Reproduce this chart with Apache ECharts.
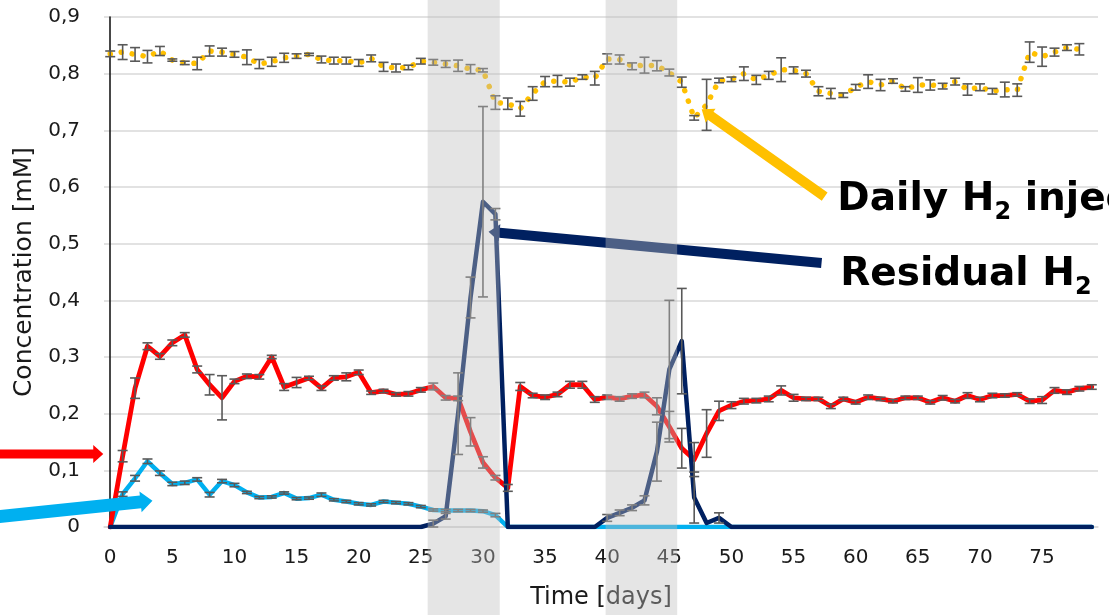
<!DOCTYPE html>
<html><head><meta charset="utf-8">
<script src="https://cdn.jsdelivr.net/npm/echarts@6/dist/echarts.min.js"></script>
<style>html,body{margin:0;padding:0;background:#fff}#c{width:1109px;height:615px}</style>
</head><body><div id="c"></div>
<script>
// ---------- data ----------
const days = ['0','1','2','3','4','5','6','7','8','9','10','11','12','13','14','15','16','17','18','19',
  '20','21','22','23','24','25','26','27','28','29','30','31','32','33','34','35','36','37','38','39',
  '40','41','42','43','44','45','46','47','48','49','50','51','52','53','54','55','56','57','58','59',
  '60','61','62','63','64','65','66','67','68','69','70','71','72','73','74','75','76','77','78','79'];

const dailyH2 = [0.835,0.838,0.834,0.830,0.840,0.824,0.819,0.818,0.840,0.838,
  0.834,0.829,0.817,0.821,0.828,0.831,0.834,0.825,0.823,0.823,
  0.819,0.827,0.812,0.810,0.811,0.822,0.820,0.817,0.814,0.808,
  0.806,0.749,0.747,0.738,0.765,0.786,0.787,0.785,0.794,0.792,
  0.826,0.825,0.813,0.815,0.814,0.802,0.785,0.722,0.745,0.788,
  0.790,0.800,0.789,0.797,0.807,0.806,0.800,0.769,0.765,0.762,
  0.776,0.786,0.780,0.787,0.773,0.780,0.780,0.778,0.786,0.772,
  0.776,0.769,0.772,0.771,0.838,0.830,0.838,0.846,0.843];
const dailyH2Err = [0.005,0.013,0.012,0.011,0.008,0.002,0.003,0.011,0.009,0.007,
  0.005,0.013,0.008,0.008,0.008,0.004,0.002,0.006,0.006,0.006,
  0.006,0.006,0.008,0.007,0.004,0.005,0.005,0.006,0.010,0.008,
  0.003,0.012,0.010,0.013,0.012,0.009,0.010,0.007,0.004,0.012,
  0.009,0.008,0.006,0.014,0.009,0.006,0.009,0.004,0.045,0.004,
  0.004,0.012,0.008,0.007,0.021,0.006,0.006,0.008,0.009,0.004,
  0.005,0.012,0.010,0.004,0.004,0.013,0.009,0.005,0.006,0.010,
  0.006,0.005,0.013,0.011,0.018,0.017,0.007,0.005,0.010];

const redSeries = [0.000,0.125,0.245,0.319,0.301,0.325,0.339,0.278,0.251,0.228,
  0.257,0.266,0.265,0.300,0.247,0.255,0.263,0.245,0.263,0.265,
  0.273,0.237,0.240,0.234,0.235,0.242,0.248,0.228,0.227,0.168,
  0.114,0.087,0.069,0.248,0.232,0.229,0.234,0.251,0.251,0.225,
  0.229,0.226,0.231,0.233,0.213,0.177,0.139,0.119,0.165,0.205,
  0.215,0.222,0.223,0.226,0.241,0.228,0.226,0.226,0.213,0.226,
  0.220,0.229,0.226,0.222,0.228,0.228,0.220,0.228,0.222,0.232,
  0.225,0.232,0.232,0.234,0.222,0.224,0.241,0.238,0.244,0.247];
const redErr = [0,0.010,0.018,0.006,0.005,0.005,0.004,0.006,0.018,0.039,
  0.004,0.004,0.004,0.003,0.006,0.009,0.003,0.004,0.004,0.007,
  0.004,0.003,0.003,0.003,0.004,0.004,0.006,0.004,0.004,0.025,
  0.010,0.004,0.006,0.007,0.004,0.004,0.004,0.006,0.006,0.005,
  0.004,0.004,0.004,0.005,0.015,0.027,0.035,0.030,0.042,0.017,
  0.006,0.005,0.004,0.005,0.008,0.006,0.003,0.003,0.004,0.003,
  0.003,0.004,0.003,0.003,0.003,0.003,0.003,0.004,0.003,0.005,
  0.004,0.004,0.003,0.003,0.004,0.006,0.005,0.004,0.004,0.004];

const blueSeries = [0.000,0.058,0.086,0.116,0.095,0.076,0.078,0.084,0.057,0.081,
  0.074,0.061,0.052,0.053,0.060,0.050,0.051,0.057,0.048,0.045,
  0.041,0.039,0.045,0.043,0.041,0.036,0.030,0.029,0.029,0.029,
  0.028,0.021,0,0,0,0,0,0,0,0,
  0,0,0,0,0,0,0,0,0,0,
  0,0,0,0,0,0,0,0,0,0,
  0,0,0,0,0,0,0,0,0,0,
  0,0,0,0,0,0,0,0,0,0];
const blueErr = [0,0.004,0.005,0.004,0.004,0.003,0.003,0.003,0.004,0.003,
  0.003,0.002,0.002,0.002,0.002,0.002,0.002,0.003,0.002,0.002,
  0.002,0.002,0.002,0.002,0.002,0.002,0.002,0.002,0.002,0.002,
  0.002,0.003,0,0,0,0,0,0,0,0,
  0,0,0,0,0,0,0,0,0,0,
  0,0,0,0,0,0,0,0,0,0,
  0,0,0,0,0,0,0,0,0,0,
  0,0,0,0,0,0,0,0,0,0];

const residualH2 = [0,0,0,0,0,0,0,0,0,0,
  0,0,0,0,0,0,0,0,0,0,
  0,0,0,0,0,0,0.006,0.019,0.200,0.405,
  0.574,0.552,0,0,0,0,0,0,0,0,
  0.016,0.025,0.034,0.047,0.133,0.278,0.328,0.052,0.007,0.016,
  0,0,0,0,0,0,0,0,0,0,
  0,0,0,0,0,0,0,0,0,0,
  0,0,0,0,0,0,0,0,0,0];
const residualH2Err = [0,0,0,0,0,0,0,0,0,0,
  0,0,0,0,0,0,0,0,0,0,
  0,0,0,0,0,0,0.006,0.005,0.072,0.036,
  0.168,0.010,0,0,0,0,0,0,0,0,
  0.006,0.005,0.005,0.008,0.052,0.122,0.093,0.045,0,0.009,
  0,0,0,0,0,0,0,0,0,0,
  0,0,0,0,0,0,0,0,0,0,
  0,0,0,0,0,0,0,0,0,0];

const shadedBands = [[25.55, 31.35], [39.87, 45.63]];   // day ranges
const yTickLabels = ['0','0,1','0,2','0,3','0,4','0,5','0,6','0,7','0,8','0,9'];

// annotation anchors in data units [day, concentration]
const arrowYellow = {tail:[57.5, 0.583], tip:[47.6, 0.737]};
const arrowNavy   = {tail:[57.25, 0.466], tip:[30.45, 0.521]};
const arrowRed    = {tail:[-9.5, 0.129], tip:[-0.56, 0.129]};
const arrowBlue   = {tail:[-9.5, 0.017], tip:[3.4, 0.0465]};
const labelDaily    = [58.52, 0.611];
const labelResidual = [58.76, 0.479];

// ---------- chart ----------
const FONT = 'DejaVu Sans';
const chart = echarts.init(document.getElementById('c'), null, {renderer:'canvas'});

function errData(vals, errs){ return vals.map((v,i)=>[i, v, errs[i]]); }
function errSeries(vals, errs, z){
  return {
    type:'custom', xAxisIndex:0, yAxisIndex:0, z:z, silent:true,
    encode:{x:0, y:1},
    data: errData(vals, errs),
    renderItem: function(params, api){
      const e = api.value(2);
      if (!e) return null;
      const x = api.value(0), v = api.value(1);
      const top = api.coord([x, v + e]);
      const bot = api.coord([x, Math.max(v - e, 0)]);
      const hw = 5;
      const st = {stroke:'#595959', lineWidth:1.6};
      return {type:'group', children:[
        {type:'line', shape:{x1:top[0], y1:top[1], x2:bot[0], y2:bot[1]}, style:st},
        {type:'line', shape:{x1:top[0]-hw, y1:top[1], x2:top[0]+hw, y2:top[1]}, style:st},
        {type:'line', shape:{x1:bot[0]-hw, y1:bot[1], x2:bot[0]+hw, y2:bot[1]}, style:st}
      ]};
    }
  };
}
function lineSeries(name, vals, color, width, z, extra){
  return Object.assign({
    name:name, type:'line', xAxisIndex:0, yAxisIndex:0, data:vals, z:z,
    symbol:'none', smooth:false, silent:true,
    lineStyle:{color:color, width:width, join:'round', cap:'round'}
  }, extra||{});
}

chart.setOption({
  animation:false,
  backgroundColor:'#ffffff',
  grid:{left:104, right:11, top:17, bottom:88, containLabel:false},
  xAxis:[{
    type:'category', data:days, boundaryGap:true,
    axisLine:{show:true, lineStyle:{color:'#d9d9d9', width:1.5}},
    axisTick:{show:false},
    axisLabel:{interval:4, margin:21, color:'#1a1a1a', fontFamily:FONT, fontSize:20},
    splitLine:{show:false},
    name:'Time [days]', nameLocation:'middle', nameGap:59,
    nameTextStyle:{color:'#1a1a1a', fontFamily:FONT, fontSize:24}
  },{
    type:'value', min:-0.5, max:79.5, show:false
  }],
  yAxis:[{
    type:'value', min:0, max:0.9, interval:0.1,
    axisLine:{show:true, lineStyle:{color:'#1a1a1a', width:1.6}},
    axisTick:{show:false},
    axisLabel:{margin:24, color:'#1a1a1a', fontFamily:FONT, fontSize:20,
      formatter:function(v){ return yTickLabels[Math.round(v*10)]; }},
    splitLine:{show:true, lineStyle:{color:'#d9d9d9', width:1.5}},
    name:'Concentration [mM]', nameLocation:'middle', nameGap:61,
    nameTextStyle:{color:'#1a1a1a', fontFamily:FONT, fontSize:25}
  }],
  series:[
    lineSeries('Daily H2 injection', dailyH2, '#ffc000', 5.5, 2,
      {lineStyle:{color:'#ffc000', width:5.5, type:[0.1, 11], cap:'round', join:'round'}}),
    errSeries(dailyH2, dailyH2Err, 3),
    lineSeries('blue', blueSeries, '#00b0f0', 4.5, 4),
    lineSeries('red', redSeries, '#ff0000', 4.8, 5),
    lineSeries('Residual H2', residualH2, '#002060', 4.5, 6),
    errSeries(blueSeries, blueErr, 7),
    errSeries(redSeries, redErr, 7),
    errSeries(residualH2, residualH2Err, 7)
  ]
});

// ---------- annotations (positions converted through the axes) ----------
function px(d){ return chart.convertToPixel({xAxisIndex:1}, d); }
function py(v){ return chart.convertToPixel({yAxisIndex:0}, v); }
function P(pt){ return [px(pt[0]), py(pt[1])]; }

function arrowShape(a, shaftW, headW, headL, color, z){
  const t = P(a.tail), h = P(a.tip);
  const dx = h[0]-t[0], dy = h[1]-t[1], L = Math.hypot(dx, dy);
  const ux = dx/L, uy = dy/L, nx = -uy, ny = ux;
  const bx = h[0]-ux*headL, by = h[1]-uy*headL;
  const s = shaftW/2, w = headW/2;
  return {type:'polygon', z:z, silent:true,
    shape:{points:[[t[0]+nx*s, t[1]+ny*s],[bx+nx*s, by+ny*s],[bx+nx*w, by+ny*w],[h[0],h[1]],
                   [bx-nx*w, by-ny*w],[bx-nx*s, by-ny*s],[t[0]-nx*s, t[1]-ny*s]]},
    style:{fill:color}};
}

const h = chart.getHeight();
const elements = [];
shadedBands.forEach(function(b){
  const x1 = px(b[0]), x2 = px(b[1]);
  elements.push({type:'rect', z:20, silent:true, shape:{x:x1, y:0, width:x2-x1, height:h},
    style:{fill:'rgba(190,190,190,0.4)'}});
});
elements.push(arrowShape(arrowYellow, 10, 17, 11, '#ffc000', 8));
elements.push(arrowShape(arrowNavy, 10, 17, 11, '#002060', 8));
elements.push(arrowShape(arrowRed, 9, 18, 10, '#ff0000', 8));
elements.push(arrowShape(arrowBlue, 13, 21, 12, '#00b0f0', 8));

const rich = {
  a:{fontFamily:FONT, fontWeight:'bold', fontSize:39, lineHeight:44, verticalAlign:'top', fill:'#000', padding:[0,0,6,0]},
  s:{fontFamily:FONT, fontWeight:'bold', fontSize:24, lineHeight:24, verticalAlign:'bottom', fill:'#000'}
};
function label(pt, txt){
  const p = P(pt);
  return {type:'text', z:25, silent:true, x:p[0], y:p[1],
    style:{text:txt, rich:rich, align:'left', verticalAlign:'top'}};
}
elements.push(label(labelDaily, '{a|Daily H}{s|2}{a| injection}'));
elements.push(label(labelResidual, '{a|Residual H}{s|2}{a| }'));

chart.setOption({graphic:{elements:elements}});
</script></body></html>
